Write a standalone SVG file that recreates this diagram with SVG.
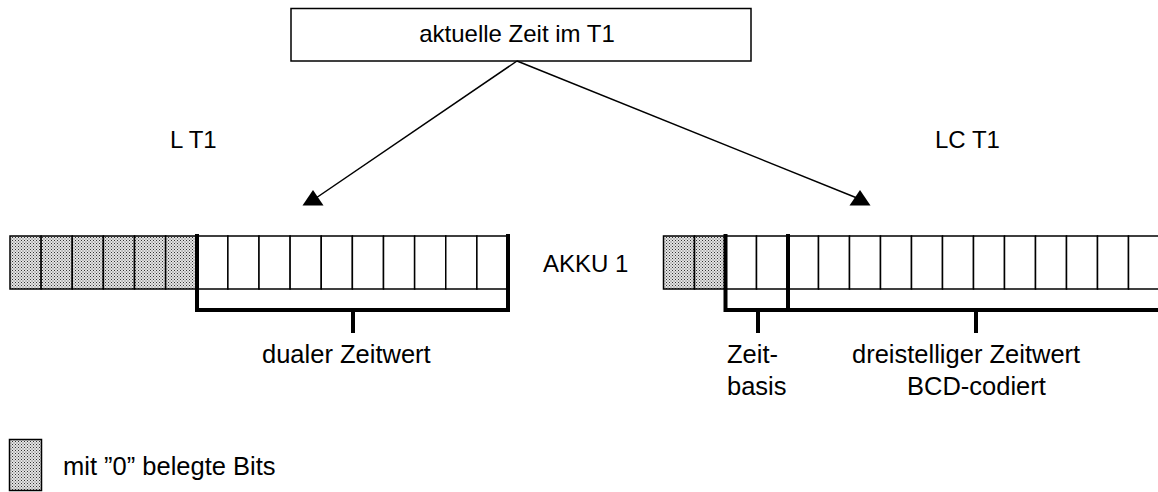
<svg xmlns="http://www.w3.org/2000/svg" width="1158" height="492" viewBox="0 0 1158 492">
<defs>
<pattern id="dots" width="3" height="3" patternUnits="userSpaceOnUse">
<rect width="3" height="3" fill="#e4e4e4"/>
<rect x="0" y="0" width="1" height="1" fill="#333"/>
<rect x="1.5" y="1.5" width="1" height="1" fill="#555"/>
</pattern>
<style>
text{font-family:"Liberation Sans",Arial,sans-serif;font-size:24px;fill:#000}
.lbl{font-size:25.5px}
.cell{fill:#fff;stroke:#000;stroke-width:1.5}
.zero{fill:url(#dots);stroke:#000;stroke-width:1.5}
.thick{fill:none;stroke:#000;stroke-width:4;stroke-linecap:square}
.conn{fill:none;stroke:#000;stroke-width:1.5}
.head{fill:#000}
</style>
</defs>
<rect width="1158" height="492" fill="#fff"/>

<g id="source">
<rect x="291" y="8.5" width="460" height="52.5" fill="#fff" stroke="#000" stroke-width="1.5"/>
<text x="517" y="42" text-anchor="middle">aktuelle Zeit im T1</text>
</g>

<g id="connectors">
<line class="conn" x1="517" y1="61" x2="316" y2="198"/>
<polygon class="head" points="313,190 302.5,205.5 323.5,205.5"/>
<line class="conn" x1="517" y1="61" x2="857" y2="198"/>
<polygon class="head" points="860,190 849.5,205.5 870.5,205.5"/>
</g>

<g id="label-lt1"><text x="170" y="148">L T1</text></g>
<g id="label-lct1"><text x="935" y="148">LC T1</text></g>

<g id="akku-left">
<rect class="zero" x="10" y="236" width="31.125" height="53"/>
<rect class="zero" x="41.125" y="236" width="31.125" height="53"/>
<rect class="zero" x="72.25" y="236" width="31.125" height="53"/>
<rect class="zero" x="103.375" y="236" width="31.125" height="53"/>
<rect class="zero" x="134.5" y="236" width="31.125" height="53"/>
<rect class="zero" x="165.625" y="236" width="31.125" height="53"/>
<rect class="cell" x="196.75" y="236" width="31.125" height="53"/>
<rect class="cell" x="227.875" y="236" width="31.125" height="53"/>
<rect class="cell" x="259" y="236" width="31.125" height="53"/>
<rect class="cell" x="290.125" y="236" width="31.125" height="53"/>
<rect class="cell" x="321.25" y="236" width="31.125" height="53"/>
<rect class="cell" x="352.375" y="236" width="31.125" height="53"/>
<rect class="cell" x="383.5" y="236" width="31.125" height="53"/>
<rect class="cell" x="414.625" y="236" width="31.125" height="53"/>
<rect class="cell" x="445.75" y="236" width="31.125" height="53"/>
<rect class="cell" x="476.875" y="236" width="31.125" height="53"/>
<path class="thick" d="M197,236 V310 H508 V236"/>
<path class="thick" d="M353,310 V331"/>
<text class="lbl" x="262" y="363">dualer Zeitwert</text>
</g>

<g id="akku-label"><text x="543" y="272">AKKU 1</text></g>

<g id="akku-right">
<rect class="zero" x="663.5" y="236" width="31" height="53"/>
<rect class="zero" x="694.5" y="236" width="31" height="53"/>
<rect class="cell" x="725.5" y="236" width="31" height="53"/>
<rect class="cell" x="756.5" y="236" width="31" height="53"/>
<rect class="cell" x="787.5" y="236" width="31" height="53"/>
<rect class="cell" x="818.5" y="236" width="31" height="53"/>
<rect class="cell" x="849.5" y="236" width="31" height="53"/>
<rect class="cell" x="880.5" y="236" width="31" height="53"/>
<rect class="cell" x="911.5" y="236" width="31" height="53"/>
<rect class="cell" x="942.5" y="236" width="31" height="53"/>
<rect class="cell" x="973.5" y="236" width="31" height="53"/>
<rect class="cell" x="1004.5" y="236" width="31" height="53"/>
<rect class="cell" x="1035.5" y="236" width="31" height="53"/>
<rect class="cell" x="1066.5" y="236" width="31" height="53"/>
<rect class="cell" x="1097.5" y="236" width="31" height="53"/>
<rect class="cell" x="1128.5" y="236" width="31" height="53"/>
<path class="thick" d="M725.5,236 V310 H1160"/>
<path class="thick" d="M788,236 V310"/>
<path class="thick" d="M758,310 V331"/>
<path class="thick" d="M976,310 V331"/>
<text class="lbl" x="727" y="363">Zeit-</text>
<text class="lbl" x="727" y="395">basis</text>
<text class="lbl" x="852" y="363">dreistelliger Zeitwert</text>
<text class="lbl" x="907" y="395">BCD-codiert</text>
</g>

<g id="legend">
<rect class="zero" x="9.5" y="439.5" width="32" height="51"/>
<text class="lbl" x="63" y="475">mit ”0” belegte Bits</text>
</g>
</svg>
